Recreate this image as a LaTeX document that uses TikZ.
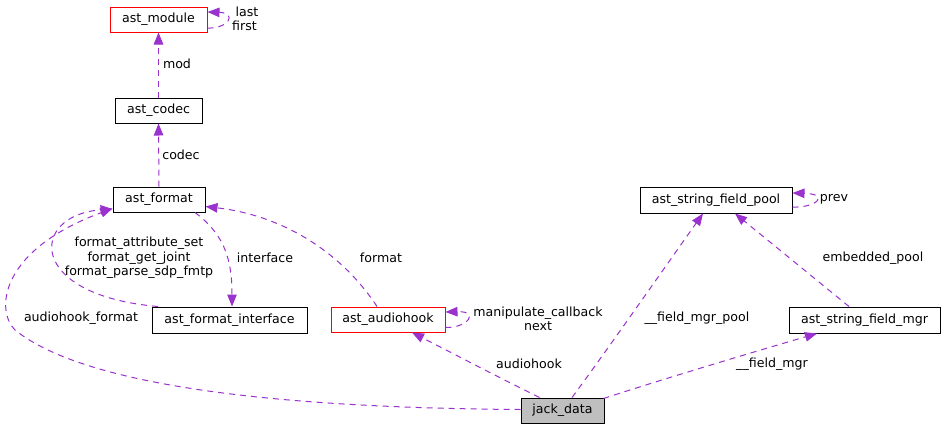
\documentclass[tikz,border=0pt]{standalone}
\usepackage{fontspec}
\setmainfont{DejaVu Sans}
\usetikzlibrary{arrows.meta}
\definecolor{edgec}{RGB}{154,50,205}
\definecolor{jackfill}{RGB}{191,191,191}
\tikzset{
  box/.style={draw=black, line width=1pt, rectangle, inner sep=0pt, minimum height=25pt, font=\fontsize{12.6}{14.5}\selectfont, fill=white},
  redbox/.style={box, draw=red},
  edge/.style={draw=edgec, line width=1pt, dash pattern=on 6pt off 5pt, -{Triangle[length=12pt,width=9.5pt,fill=edgec]}},
  lbl/.style={inner sep=0pt, font=\fontsize{12.6}{14.5}\selectfont, align=center, text=black}
}
\begin{document}
\begin{tikzpicture}[x=1pt,y=-1pt]
\path[use as bounding box, fill=white] (0,0) rectangle (945,429);
% nodes
\node[redbox, minimum width=97pt] (module) at (158.5,19.5) {ast\_module};
\node[box, minimum width=87pt] (codec) at (158.5,110.5) {ast\_codec};
\node[box, minimum width=92pt] (fmt) at (159,199.5) {ast\_format};
\node[box, minimum width=155pt, minimum height=26pt] (iface) at (229.5,320) {ast\_format\_interface};
\node[redbox, minimum width=114pt] (ahook) at (388,319.5) {ast\_audiohook};
\node[box, minimum width=83pt, fill=jackfill] (jack) at (562.5,410.5) {jack\_data};
\node[box, minimum width=152pt, minimum height=26pt] (pool) at (716,200) {ast\_string\_field\_pool};
\node[box, minimum width=151pt, minimum height=26pt] (mgr) at (864.5,320) {ast\_string\_field\_mgr};
% edges
\draw[edge] ([yshift=-8.5pt]module.east) .. controls (228,29) and (238,13) .. ([yshift=7.5pt]module.east);
\draw[edge] (codec.north) -- (module.south);
\draw[edge] (fmt.north) -- (codec.south);
\draw[edge] ([xshift=-71.5pt]iface.north) .. controls (25,295) and (30,215) .. ([yshift=-9.5pt]fmt.west);
\draw[edge] ([xshift=36pt]fmt.south) .. controls (225,235) and (232,260) .. ([xshift=2.5pt]iface.north);
\draw[edge] ([xshift=-11pt]ahook.north) .. controls (340,250) and (280,215) .. ([yshift=-7pt]fmt.east);
\draw[edge] ([yshift=1pt]jack.west) .. controls (300,408) and (90,390) .. (15,330) .. controls (-5,310) and (0,250) .. ([yshift=-9pt]fmt.west);
\draw[edge] ([yshift=-8pt]ahook.east) .. controls (468,328) and (480,311) .. ([yshift=7.5pt]ahook.east);
\draw[edge] ([xshift=-23pt]jack.north) .. controls (500,378) and (450,352) .. ([xshift=24pt]ahook.south);
\draw[edge] ([xshift=9.5pt]jack.north) .. controls (600,360) and (670,260) .. ([xshift=-13pt]pool.south);
\draw[edge] ([xshift=41pt,yshift=-1pt]jack.north) .. controls (660,380) and (760,350) .. ([xshift=-47.5pt]mgr.south);
\draw[edge] ([xshift=-15.5pt]mgr.north) -- ([xshift=19pt]pool.south);
\draw[edge] ([yshift=-7pt]pool.east) .. controls (817,208) and (830,194) .. ([yshift=7pt]pool.east);
% labels
\node[lbl] (lLast) at (247,12) {last};
\node[lbl] (lFirst) at (244.5,26) {first};
\node[lbl] (lMod) at (177,64) {mod};
\node[lbl] (lCodec) at (181,155) {codec};
\node[lbl] (lFmtFns) at (139,258) {format\_attribute\_set\\format\_get\_joint\\format\_parse\_sdp\_fmtp};
\node[lbl] (lIface) at (265,258) {interface};
\node[lbl] (lFormat) at (381,258) {format};
\node[lbl] (lAhFmt) at (81,318) {audiohook\_format};
\node[lbl] (lManip) at (538,319) {manipulate\_callback\\next};
\node[lbl] (lAhook) at (529,364) {audiohook};
\node[lbl] (lPoolF) at (697,318) {\_\_field\_mgr\_pool};
\node[lbl] (lMgrF) at (772,364) {\_\_field\_mgr};
\node[lbl] (lEmb) at (873,258) {embedded\_pool};
\node[lbl] (lPrev) at (834,199) {prev};
\end{tikzpicture}
\end{document}
